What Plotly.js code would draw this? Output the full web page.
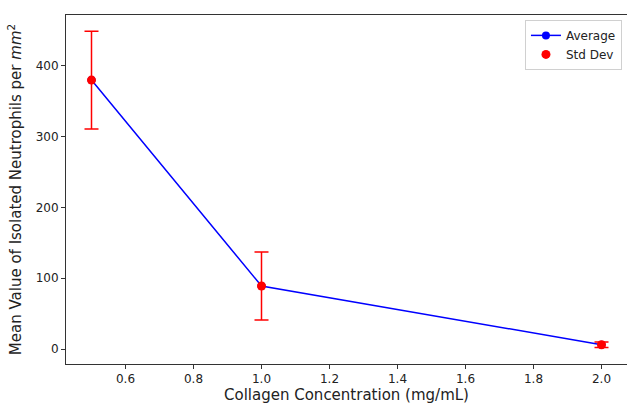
<!DOCTYPE html>
<html>
<head>
<meta charset="utf-8">
<script src="https://cdn.plot.ly/plotly-3.0.1.min.js"></script>
<style>html,body{margin:0;padding:0;background:#fff;}#chart{width:627px;height:404px;}</style>
</head>
<body>
<div id="chart"></div>
<script>
var concentrations = [0.5, 1.0, 2.0];
var meanValues = [380, 89, 6];
var stdValues = [69, 48, 4];
var xTicks = [0.6, 0.8, 1.0, 1.2, 1.4, 1.6, 1.8, 2.0];
var xTickLabels = ['0.6', '0.8', '1.0', '1.2', '1.4', '1.6', '1.8', '2.0'];
var yTicks = [0, 100, 200, 300, 400];

var traces = [
  {
    x: concentrations, y: meanValues, type: 'scatter', mode: 'lines+markers',
    name: 'Average',
    line: {color: '#0000ff', width: 1.5},
    marker: {color: '#0000ff', size: 8}
  },
  {
    x: concentrations, y: meanValues, type: 'scatter', mode: 'markers',
    name: 'Std Dev',
    marker: {color: '#ff0000', size: 9},
    error_y: {type: 'data', array: stdValues, visible: true, color: '#ff0000', thickness: 1.5, width: 7}
  }
];

var layout = {
  width: 627, height: 404,
  margin: {l: 66, r: 0, t: 15, b: 40},
  paper_bgcolor: '#fff', plot_bgcolor: '#fff',
  font: {family: 'DejaVu Sans', size: 12, color: '#222'},
  showlegend: true,
  legend: {
    x: 0.991, xanchor: 'right', y: 0.986, yanchor: 'top',
    bgcolor: 'rgba(255,255,255,0.8)', bordercolor: '#d0d0d0', borderwidth: 1,
    font: {family: 'DejaVu Sans', size: 12, color: '#222'},
    tracegroupgap: 0
  },
  xaxis: {
    range: [0.425, 2.075],
    tickmode: 'array', tickvals: xTicks, ticktext: xTickLabels,
    ticks: 'outside', ticklen: 4, tickwidth: 1, tickcolor: '#333',
    showline: true, linecolor: '#333', linewidth: 1, mirror: true,
    showgrid: false, zeroline: false,
    tickfont: {size: 12, color: '#222'},
    title: {text: 'Collagen Concentration (mg/mL)', font: {size: 15, color: '#222'}, standoff: 9}
  },
  yaxis: {
    range: [-21.2, 472],
    tickmode: 'array', tickvals: yTicks,
    ticks: 'outside', ticklen: 4, tickwidth: 1, tickcolor: '#333',
    showline: true, linecolor: '#333', linewidth: 1, mirror: false,
    showgrid: false, zeroline: false,
    tickfont: {size: 12, color: '#222'},
    title: {text: 'Mean Value of Isolated Neutrophils per <i>mm</i><sup>2</sup>', font: {size: 15, color: '#222'}, standoff: 10}
  }
};

Plotly.newPlot('chart', traces, layout, {displayModeBar: false, staticPlot: true});
</script>
</body>
</html>
